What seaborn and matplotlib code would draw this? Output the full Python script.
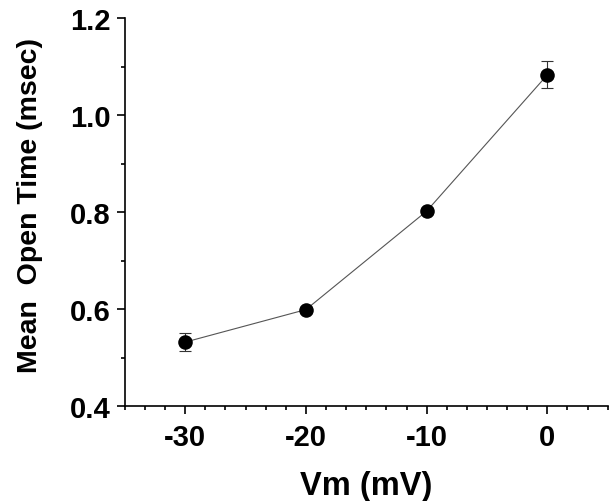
import matplotlib
matplotlib.use("Agg")
import matplotlib.pyplot as plt
import seaborn as sns
from matplotlib.ticker import MultipleLocator
import pandas as pd

# dados
vm = [-30, -20, -10, 0]
tempo = [0.532, 0.599, 0.802, 1.083]
erro = [0.018, 0.006, 0.006, 0.028]

df = pd.DataFrame({"vm": vm, "tempo": tempo})

sns.set_style("ticks")
plt.rcParams['font.family'] = ['Liberation Sans', 'DejaVu Sans']
plt.rcParams['font.weight'] = 'bold'
plt.rcParams['axes.unicode_minus'] = False
plt.rcParams['text.color'] = 'black'
plt.rcParams['axes.labelcolor'] = 'black'
plt.rcParams['xtick.color'] = 'black'
plt.rcParams['ytick.color'] = 'black'

fig = plt.figure(figsize=(6.12, 5.02), dpi=100)
ax = fig.add_axes([0.204, 0.189, 0.789, 0.773])

# linha fina cinza ligando os pontos
sns.lineplot(data=df, x="vm", y="tempo", ax=ax, color="#555555", linewidth=0.8, zorder=1)
ax.errorbar(vm, tempo, yerr=erro, fmt="none", ecolor="#333333", elinewidth=0.8,
            capsize=4, capthick=0.8, zorder=2)
sns.scatterplot(data=df, x="vm", y="tempo", ax=ax, color="black", s=110,
                edgecolor="black", linewidth=0, zorder=3)

ax.set_xlim(-35, 5)
ax.set_ylim(0.4, 1.2)
ax.set_xticks([-30, -20, -10, 0])
ax.xaxis.set_minor_locator(MultipleLocator(10 / 6))
ax.set_yticks([0.4, 0.6, 0.8, 1.0, 1.2])
ax.yaxis.set_minor_locator(MultipleLocator(0.1))
ax.set_yticklabels(["0.4", "0.6", "0.8", "1.0", "1.2"])

sns.despine(ax=ax)
for s in ["left", "bottom"]:
    ax.spines[s].set_linewidth(1.2)
    ax.spines[s].set_color("black")

ax.tick_params(which="major", length=6, width=1.2, labelsize=21, pad=4, color="black")
ax.tick_params(which="minor", length=3, width=1.2, color="black")
ax.tick_params(axis="x", pad=6)
for lab in ax.get_xticklabels() + ax.get_yticklabels():
    lab.set_fontweight("bold")

ax.set_xlabel("Vm (mV)", fontsize=23.5, fontweight="bold", labelpad=14)
ax.set_ylabel("Mean  Open Time (msec)", fontsize=20.5, fontweight="bold")
ax.yaxis.set_label_coords(-0.17, 0.52)

fig.savefig("out.png", dpi=100)
